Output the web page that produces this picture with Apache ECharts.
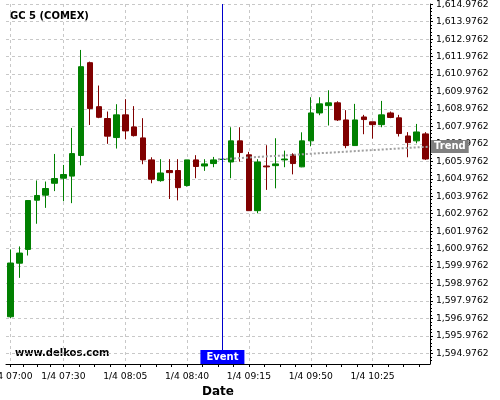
<!DOCTYPE html>
<html>
<head>
<meta charset="utf-8">
<script src="https://cdn.jsdelivr.net/npm/echarts@6/dist/echarts.min.js"></script>
<style>html,body{margin:0;padding:0;background:#fff}#c{width:500px;height:400px}</style>
</head>
<body>
<div id="c"></div>
<script>
const categories = ['1/4 07:00','1/4 07:05','1/4 07:10','1/4 07:15','1/4 07:20','1/4 07:25','1/4 07:30','1/4 07:35','1/4 07:40','1/4 07:45','1/4 07:50','1/4 07:55',
  '1/4 08:00','1/4 08:05','1/4 08:10','1/4 08:15','1/4 08:20','1/4 08:25','1/4 08:30','1/4 08:35','1/4 08:40','1/4 08:45','1/4 08:50','1/4 08:55',
  '1/4 09:00','1/4 09:05','1/4 09:10','1/4 09:15','1/4 09:20','1/4 09:25','1/4 09:30','1/4 09:35','1/4 09:40','1/4 09:45','1/4 09:50','1/4 09:55',
  '1/4 10:00','1/4 10:05','1/4 10:10','1/4 10:15','1/4 10:20','1/4 10:25','1/4 10:30','1/4 10:35','1/4 10:40','1/4 10:45','1/4 10:50','1/4 10:55'];
const opens  = [1597.07,1600.14,1600.93,1603.75,1604.04,1604.72,1605.01,1605.13,1606.31,1611.63,1609.11,1608.43,
  1607.34,1608.64,1607.95,1607.32,1606.06,1604.87,1605.45,1605.45,1604.59,1606.06,1605.71,1605.85,
  1606.09,1605.94,1607.15,1606.35,1603.15,1605.71,1605.73,1606.06,1606.35,1605.66,1607.15,1608.75,
  1609.17,1609.33,1608.35,1606.88,1608.52,1608.24,1608.08,1608.75,1608.47,1607.43,1607.15,1607.55];
const closes = [1600.15,1600.72,1603.73,1604.02,1604.42,1604.99,1605.22,1606.42,1611.40,1609.00,1608.50,1607.42,
  1608.64,1607.72,1607.45,1606.06,1604.95,1605.31,1605.33,1604.47,1606.06,1605.68,1605.83,1606.06,
  1606.09,1607.15,1606.48,1603.15,1605.94,1605.66,1605.83,1606.11,1605.85,1607.15,1608.75,1609.27,
  1609.33,1608.35,1606.88,1608.35,1608.37,1608.08,1608.64,1608.49,1607.57,1607.05,1607.66,1606.11];
const lows   = [1597.00,1599.30,1600.58,1602.40,1603.31,1604.27,1603.69,1603.58,1605.75,1608.06,1608.45,1606.98,
  1606.71,1607.24,1607.40,1605.81,1604.72,1604.81,1603.82,1603.74,1604.53,1605.01,1605.43,1605.64,
  1606.07,1605.01,1605.96,1603.15,1603.00,1604.34,1604.43,1605.64,1605.23,1605.64,1606.84,1608.62,
  1608.03,1608.29,1606.73,1606.88,1607.53,1607.28,1607.93,1608.45,1607.40,1606.21,1607.01,1606.06];
const highs  = [1600.93,1601.10,1603.75,1604.88,1604.82,1606.40,1605.77,1607.89,1612.36,1611.69,1610.32,1608.83,
  1609.25,1609.54,1609.14,1608.45,1606.21,1606.10,1606.10,1606.10,1606.06,1606.33,1606.10,1606.23,
  1606.11,1607.93,1607.93,1606.52,1606.10,1606.90,1607.30,1606.59,1606.44,1607.64,1609.65,1609.65,
  1610.05,1609.42,1608.91,1609.27,1608.64,1608.24,1609.44,1608.83,1608.64,1607.65,1608.12,1607.65];
const yTicks = [1594.9762,1595.9762,1596.9762,1597.9762,1598.9762,1599.9762,1600.9762,1601.9762,1602.9762,1603.9762,
  1604.9762,1605.9762,1606.9762,1607.9762,1608.9762,1609.9762,1610.9762,1611.9762,1612.9762,1613.9762,1614.9762];
const xLabelIdx = [0,6,13,20,27,34,41];
const xMinorTicks = [0,1.5,3,4.5,6,7.75,9.5,11.25,13,14.75,16.5,18.25,20,21.75,23.5,25.25,27,28.75,30.5,32.25,34,35.75,37.5,39.25,41,42.75,44.5,46.25];
const trendX = [23.5, 47.5];
const trendY = [1606.09, 1606.82];
const eventIdx = 24;
const yMin = 1594.363, yMax = 1614.993;

const yMinor = [];
for (let k = 0; k < yTicks.length; k++) {
  for (let j = -2; j <= 2; j++) {
    const v = yTicks[k] + j * 0.2;
    if (v > yMin && v <= yMax) yMinor.push(v);
  }
}

const FONT = 'DejaVu Sans';
function fmt(v) {
  const s = v.toFixed(4).split('.');
  return s[0].replace(/\B(?=(\d{3})+(?!\d))/g, ',') + '.' + s[1];
}
const candleData = opens.map((o, i) => [o, closes[i], lows[i], highs[i]]);
const grid = {left: 6, right: 70, top: 4, bottom: 36, containLabel: false, outerBoundsMode: 'none'};
const chart = echarts.init(document.getElementById('c'), null, {renderer: 'canvas'});
chart.setOption({
  animation: false,
  backgroundColor: '#ffffff',
  title: {text: 'GC 5 (COMEX)', left: 10, top: 11, padding: 0, textStyle: {fontFamily: FONT, fontSize: 10, fontWeight: 'bold', color: '#000'}},
  graphic: [{type: 'text', left: 15, top: 348, style: {text: 'www.delkos.com', font: 'bold 10px "DejaVu Sans"', fill: '#000'}}],
  grid: grid,
  xAxis: [
    {type: 'category', data: categories, boundaryGap: true, position: 'bottom',
     axisLine: {show: true, onZero: false, lineStyle: {color: '#000', width: 1}},
     axisTick: {show: false},
     axisLabel: {interval: (i) => xLabelIdx.includes(i), color: '#000', fontFamily: FONT, fontSize: 9.2, margin: 8, hideOverlap: false},
     splitLine: {show: false},
     name: 'Date', nameLocation: 'middle', nameGap: 19,
     nameTextStyle: {fontFamily: FONT, fontSize: 12, fontWeight: 'bold', color: '#000'}},
    {type: 'value', min: -0.5, max: 47.5, position: 'bottom', show: true,
     axisLine: {show: false, onZero: false},
     axisTick: {show: true, length: 3, customValues: xMinorTicks, lineStyle: {color: '#000'}},
     axisLabel: {show: false}, splitLine: {show: false}},
    {type: 'value', min: -0.5, max: 47.5, position: 'bottom', show: true,
     axisLine: {show: false, onZero: false},
     axisTick: {show: false, customValues: xLabelIdx},
     axisLabel: {show: false},
     splitLine: {show: true, lineStyle: {color: '#c8c8c8', type: [3, 3], width: 1}}}
  ],
  yAxis: [
    {type: 'value', position: 'right', min: yMin, max: yMax, scale: true,
     axisLine: {show: true, onZero: false, lineStyle: {color: '#000', width: 1}},
     axisTick: {show: true, length: 3, customValues: yTicks, lineStyle: {color: '#000'}},
     axisLabel: {show: true, customValues: yTicks, formatter: fmt, color: '#000', fontFamily: FONT, fontSize: 9.2, margin: 6},
     splitLine: {show: true, lineStyle: {color: '#c8c8c8', type: [3, 3], width: 1}}},
    {type: 'value', position: 'right', min: yMin, max: yMax, scale: true,
     axisLine: {show: false, onZero: false},
     axisTick: {show: true, length: 2, customValues: yMinor, lineStyle: {color: '#000'}},
     axisLabel: {show: false}, splitLine: {show: false}}
  ],
  series: [
    {type: 'candlestick', xAxisIndex: 0, yAxisIndex: 0, data: candleData, barWidth: 6,
     itemStyle: {color: '#008000', color0: '#800000', borderColor: '#008000', borderColor0: '#800000', borderWidth: 1},
     markLine: {silent: true, symbol: ['none', 'none'], animation: false,
       lineStyle: {color: '#0000cc', width: 1, type: 'solid'}, label: {show: false},
       data: [{xAxis: eventIdx}]},
     markPoint: {silent: true, animation: false,
       data: [{coord: [eventIdx, yMin], symbol: 'rect', symbolSize: [44, 14], symbolOffset: [0, -7],
         itemStyle: {color: '#0000ff'},
         label: {show: true, position: 'inside', formatter: 'Event', color: '#fff', fontFamily: FONT, fontSize: 10, fontWeight: 'bold'}}]}},
    {type: 'line', xAxisIndex: 1, yAxisIndex: 0, data: trendX.map((x, i) => [x, trendY[i]]),
     symbol: 'none', z: 3,
     lineStyle: {color: '#a0a0a0', width: 2, type: 'dotted'},
     endLabel: {show: true, formatter: 'Trend', distance: 1, backgroundColor: '#808080', color: '#fff',
       fontFamily: FONT, fontSize: 10, fontWeight: 'bold', padding: [2, 3, 1, 3]}}
  ]
});
</script>
</body>
</html>
